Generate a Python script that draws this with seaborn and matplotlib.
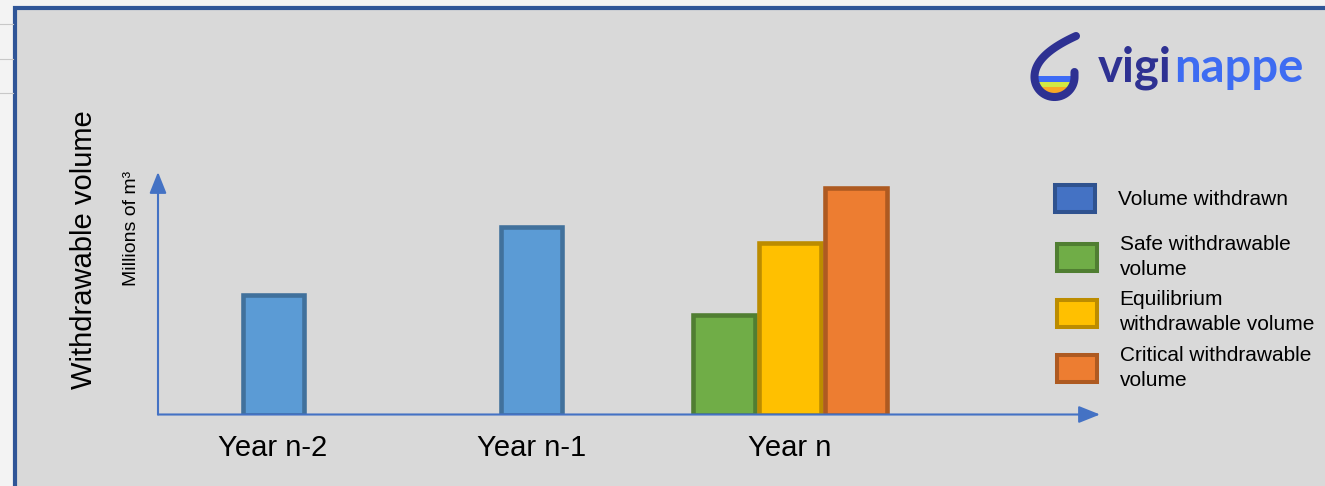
import matplotlib
matplotlib.use("Agg")
import matplotlib.pyplot as plt
import matplotlib.colors as mcolors
import seaborn as sns
import pandas as pd
import numpy as np
from matplotlib.patches import Patch, Rectangle, Circle

# ---------------- data ----------------
years = ["Year n-2", "Year n-1", "Year n"]
withdrawn_years = ["Year n-2", "Year n-1"]
withdrawn_values = [120, 188]
scenario_names = ["Safe withdrawable volume", "Equilibrium withdrawable volume",
                  "Critical withdrawable volume"]
scenario_values = [100, 172, 227]
withdrawn_label = "Volume withdrawn"
scenario_labels = ["Safe withdrawable\nvolume", "Equilibrium\nwithdrawable volume",
                   "Critical withdrawable\nvolume"]
y_title = "Withdrawable volume"
y_unit = "Millions of m³"

# ---------------- styles ----------------
withdrawn_face, withdrawn_edge = "#5b9bd5", "#41719c"
legend_withdrawn_face, legend_withdrawn_edge = "#4472c4", "#2f528f"
scenario_faces = ["#70ad47", "#ffc000", "#ed7d31"]
scenario_edges = ["#507e32", "#bc8c00", "#ae5a21"]
axis_color = "#4472c4"
EDGE_LW = 3.3

plt.rcParams['font.family'] = ['Liberation Sans', 'DejaVu Sans']

W, H = 1325, 486
fig = plt.figure(figsize=(W / 100, H / 100), dpi=100, facecolor="#f3f3f3")

# background / slide panel (pixel coordinates)
bg = fig.add_axes([0, 0, 1, 1], zorder=0)
bg.set_xlim(0, W)
bg.set_ylim(H, 0)
bg.axis('off')
for yy in (24, 59, 93):
    bg.plot([0, 13], [yy, yy], color="#c8c8c8", lw=0.8)
bg.add_patch(Rectangle((15, 8), 1400, 600, facecolor="#d9d9d9",
                       edgecolor="#2f5597", linewidth=3.0))

# axis titles
bg.text(84, 250, y_title, rotation=90, ha='center', va='center', fontsize=21, color='black')
bg.text(132, 228, y_unit, rotation=90, ha='center', va='center', fontsize=14, color='black')

# logo
cx, cy = 1054.5, 77
clip = Circle((cx, cy), 17.0, transform=bg.transData)
for y0, h, c in ((76, 6, "#3d6bf5"), (82, 5, "#d2e843"), (87, 15, "#f9a825")):
    r = Rectangle((1030, y0), 50, h, facecolor=c, edgecolor='none')
    bg.add_patch(r)
    r.set_clip_path(clip)
t = np.linspace(0, 1, 30)
P0, P1, P2, P3 = map(np.array, ([1076, 36], [1052, 47], [1034.5, 60], [1034.5, 77]))
bez = (((1 - t) ** 3)[:, None] * P0 + (3 * (1 - t) ** 2 * t)[:, None] * P1 +
       (3 * (1 - t) * t ** 2)[:, None] * P2 + (t ** 3)[:, None] * P3)
ang = np.linspace(np.pi, 0, 40)
arc = np.c_[cx + 20 * np.cos(ang), cy + 20 * np.sin(ang)]
path = np.vstack([bez, arc, [[1074.5, 72]]])
bg.plot(path[:, 0], path[:, 1], color="#2e3192", lw=5.8,
        solid_capstyle='round', solid_joinstyle='round')
bg.text(1098, 82, "vigi", fontsize=34, family=['Lato', 'DejaVu Sans'], fontweight='bold',
        color="#2e3192", ha='left', va='baseline')
bg.text(1174, 82, "nappe", fontsize=34, family=['Lato', 'DejaVu Sans'], fontweight='bold',
        color="#3e6cf2", ha='left', va='baseline')

# ---------------- chart ----------------
ax = fig.add_axes([158 / W, (H - 414.5) / H, (1100 - 158) / W, (414.5 - 172) / H], zorder=2)
ax.set_facecolor('none')

df_w = pd.DataFrame({"year": withdrawn_years, "volume": withdrawn_values})
sns.barplot(data=df_w, x="year", y="volume", order=years, color=withdrawn_face,
            saturation=1, width=0.236, edgecolor=withdrawn_edge, linewidth=EDGE_LW,
            errorbar=None, ax=ax)

df_s = pd.DataFrame({"year": ["Year n"] * len(scenario_names),
                     "scenario": scenario_names, "volume": scenario_values})
sns.barplot(data=df_s, x="year", y="volume", hue="scenario", hue_order=scenario_names,
            order=years, palette=dict(zip(scenario_names, scenario_faces)),
            saturation=1, width=0.767, gap=0.06, dodge=True, linewidth=EDGE_LW,
            errorbar=None, legend=False, ax=ax)

face_to_edge = {mcolors.to_hex(f): e for f, e in zip(scenario_faces, scenario_edges)}
for p in ax.patches:
    fc = mcolors.to_hex(p.get_facecolor())
    if fc in face_to_edge:
        p.set_edgecolor(face_to_edge[fc])
        p.set_linewidth(EDGE_LW)

ax.set_xlim(-0.4456, 3.202)
ax.set_ylim(0, 242.5)
ax.set_xlabel("")
ax.set_ylabel("")
ax.set_yticks([])
ax.tick_params(axis='x', length=0, pad=14, labelsize=21, colors='black')
for s in ax.spines.values():
    s.set_visible(False)

arrow_kw = dict(arrowstyle='-|>,head_length=0.65,head_width=0.26', mutation_scale=20,
                color=axis_color, lw=1.5, shrinkA=0, shrinkB=0)
ax.annotate("", xy=(1, 0), xytext=(0, 0), xycoords='axes fraction',
            arrowprops=arrow_kw, annotation_clip=False)
ax.annotate("", xy=(0, 1), xytext=(0, 0), xycoords='axes fraction',
            arrowprops=arrow_kw, annotation_clip=False)

# legends
leg_kw = dict(loc='upper left', bbox_transform=fig.transFigure, frameon=False,
              borderpad=0, borderaxespad=0, fontsize=15, handlelength=1.9,
              handleheight=1.6, handletextpad=1.1)
h1 = [Patch(facecolor=legend_withdrawn_face, edgecolor=legend_withdrawn_edge,
            linewidth=2.9, joinstyle='round')]
leg1 = ax.legend(h1, [withdrawn_label], bbox_to_anchor=(1055 / W, 1 - 185 / H), **leg_kw)
ax.add_artist(leg1)
h2 = [Patch(facecolor=f, edgecolor=e, linewidth=2.9, joinstyle='round')
      for f, e in zip(scenario_faces, scenario_edges)]
leg2 = ax.legend(h2, scenario_labels, bbox_to_anchor=(1057 / W, 1 - 235 / H),
                 labelspacing=0.55, **leg_kw)
for txt in leg2.get_texts():
    txt.set_linespacing(1.4)

fig.savefig("out.png", dpi=100, facecolor=fig.get_facecolor())
